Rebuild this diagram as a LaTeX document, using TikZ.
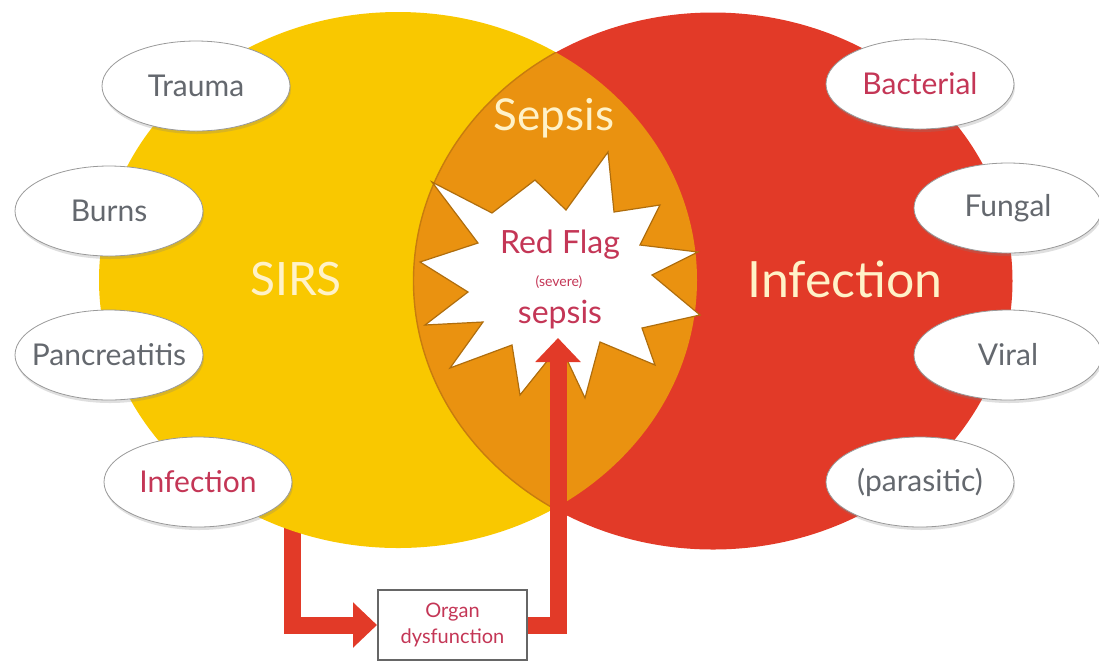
\documentclass[tikz,border=0pt]{standalone}
\usepackage{fontspec}
\setmainfont{Lato}
\usetikzlibrary{shapes.geometric,arrows.meta,shadows}
\definecolor{sirsyellow}{RGB}{249,200,0}
\definecolor{infred}{RGB}{226,58,40}
\definecolor{sepsisorange}{RGB}{234,146,16}
\definecolor{greytext}{RGB}{100,104,110}
\definecolor{flagred}{RGB}{196,54,86}
\definecolor{palelabel}{RGB}{255,242,200}

\begin{document}
\begin{tikzpicture}[x=0.5pt,y=-0.5pt]
	\tikzset{cause/.style={draw=black!40,ellipse,fill=white,inner xsep=-14pt,minimum width=94pt,minimum height=45pt,text=#1,font=\fontsize{15}{18}\selectfont,drop shadow={opacity=0.25,shadow xshift=0.5pt,shadow yshift=-1.5pt}},
		cause/.default=greytext,
		big label/.style={text=palelabel,font=\fontsize{#1}{#1}\selectfont},
		flow/.style={draw=infred,line width=8.5pt,-{Triangle[width=22pt,length=12pt]}}}
	\useasboundingbox (0,0) rectangle (1099,661);
	\node[draw=black!60,line width=1pt,fill=white,minimum width=74.5pt,minimum height=35pt,align=center,text=flagred,font=\fontsize{10}{13}\selectfont] (organ) at (452.5,625) {Organ\\dysfunction};
	\coordinate (start) at (292,520);
	\draw[flow] (start) |- (organ.west);
	\fill[sirsyellow] (398,280) ellipse [x radius=149.5pt,y radius=134pt];
	\fill[infred] (713,281) ellipse [x radius=149.75pt,y radius=134.25pt];
	\begin{scope}
		\clip (398,280) ellipse [x radius=149.5pt,y radius=134pt];
		\fill[sepsisorange] (713,281) ellipse [x radius=149.75pt,y radius=134.25pt];
		\draw[sepsisorange!85!black,line width=0.7pt] (713,281) ellipse [x radius=149.75pt,y radius=134.25pt];
	\end{scope}
	\draw[fill=white,draw=sepsisorange!75!black,line width=0.6pt] (432,182) -- (492,213) -- (535,180) -- (566,210) -- (608,152) -- (614,212) -- (660,205) -- (640,245) -- (698,252) -- (652,275) -- (700,315) -- (642,328) -- (655,365) -- (600,342) -- (585,398) -- (560,345) -- (520,395) -- (512,345) -- (450,368) -- (483,322) -- (425,325) -- (468,292) -- (420,262) -- (478,243) -- cycle;
	\node[big label=23] (sirs) at (296,279) {SIRS};
	\node[big label=22] (sepsis) at (554,118) {Sepsis};
	\node[big label=25] (infection) at (845,279) {Infection};
	\node[anchor=base,text=flagred,font=\fontsize{16}{16}\selectfont] (flag) at (560,253) {Red Flag};
	\node[anchor=base,text=flagred,font=\fontsize{7}{7}\selectfont] (severe) at (559,286) {(severe)};
	\node[anchor=base,text=flagred,font=\fontsize{16}{16}\selectfont] (severesepsis) at (560,323) {sepsis};
	\coordinate (tip) at (558,338);
	\draw[flow] (organ.east) -| (tip);
	\node[cause] (trauma) at (196,86) {Trauma};
	\node[cause] (burns) at (109,211) {Burns};
	\node[cause] (pancreatitis) at (109,355) {Pancreatitis};
	\node[cause=flagred] (sirsinfection) at (198,482) {Infection};
	\node[cause=flagred] (bacterial) at (920,84) {Bacterial};
	\node[cause] (fungal) at (1008,208) {Fungal};
	\node[cause] (viral) at (1008,355) {Viral};
	\node[cause] (parasitic) at (920,482) {(parasitic)};
\end{tikzpicture}
\end{document}
